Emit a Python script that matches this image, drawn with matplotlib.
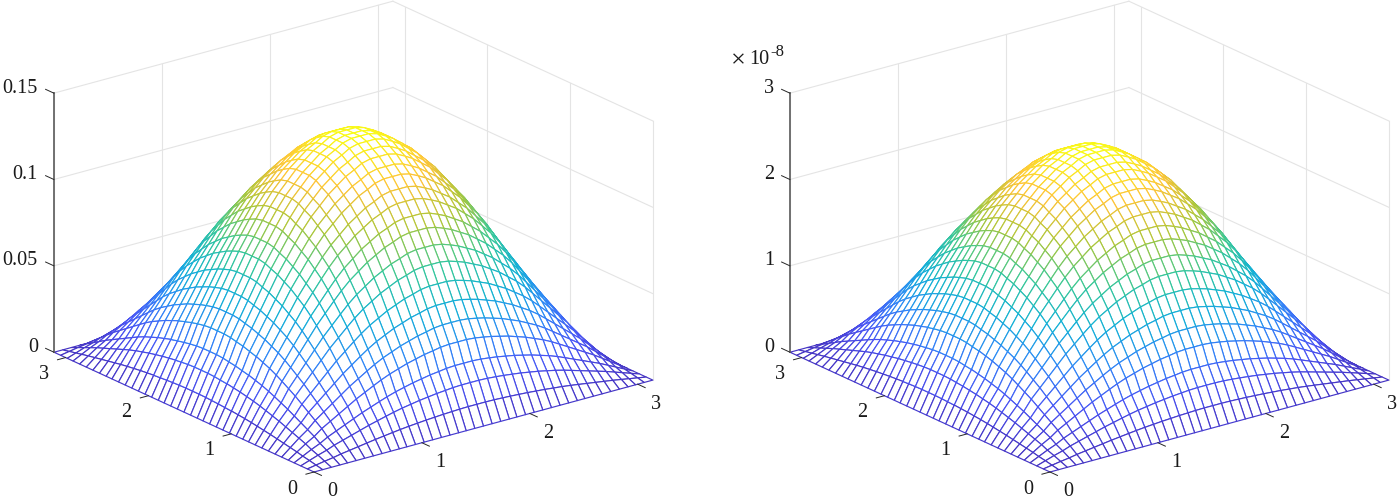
import numpy as np
import matplotlib
matplotlib.use('Agg')
import matplotlib.pyplot as plt
from matplotlib.colors import LinearSegmentedColormap
from mpl_toolkits.mplot3d import proj3d

plt.rcParams['font.family'] = ['Liberation Serif', 'DejaVu Serif']

# mesh grid coordinates and the bump profile
grid = [0.00, 0.08, 0.16, 0.24, 0.31, 0.39, 0.47, 0.55, 0.63, 0.71, 0.79,
        0.86, 0.94, 1.02, 1.10, 1.18, 1.26, 1.34, 1.41, 1.49, 1.57,
        1.65, 1.73, 1.81, 1.88, 1.96, 2.04, 2.12, 2.20, 2.28, 2.36,
        2.44, 2.51, 2.59, 2.67, 2.75, 2.83, 2.91, 2.98, 3.06, 3.14]
profile = [0.00, 0.08, 0.16, 0.23, 0.31, 0.38, 0.45, 0.52, 0.59, 0.65, 0.71,
           0.76, 0.81, 0.85, 0.89, 0.92, 0.95, 0.97, 0.99, 1.00, 1.00,
           1.00, 0.99, 0.97, 0.95, 0.92, 0.89, 0.85, 0.81, 0.76, 0.71,
           0.65, 0.59, 0.52, 0.45, 0.38, 0.31, 0.23, 0.16, 0.08, 0.00]
peak_left = 0.135
peak_right = 2.51e-8
xy_ticks = [0, 1, 2, 3]
xy_labels = ['0', '1', '2', '3']
zticks_left = [0, 0.05, 0.1, 0.15]
zlabels_left = ['0', '0.05', '0.1', '0.15']
zticks_right = [0, 1e-8, 2e-8, 3e-8]
zlabels_right = ['0', '1', '2', '3']

parula = LinearSegmentedColormap.from_list('parula', [
    (0.2700, 0.2000, 0.7600), (0.2810, 0.3228, 0.9579),
    (0.1786, 0.5289, 0.9682), (0.0689, 0.6948, 0.8394),
    (0.2161, 0.7843, 0.5923), (0.6720, 0.7793, 0.2227),
    (0.9970, 0.7659, 0.2199), (0.9769, 0.9839, 0.0805)])

W, H = 1397, 500
XMAX = np.pi
ELEV, AZIM = 20.7, -127.5
GRID_C = '#e4e4e4'
TICK_C = '#262626'
TEXT_C = '#1a1a1a'
FS = 14.6


def panel(fig, x0, peak, zticks, zlabels):
    ztop = zticks[-1]
    X, Y = np.meshgrid(grid, grid)
    Z = peak * np.outer(profile, profile)

    ax = fig.add_axes([0, 0, 0.3, 0.3 * W / H], projection='3d')
    ax.patch.set_alpha(0)
    ax.set_proj_type('ortho')
    ax.view_init(elev=ELEV, azim=AZIM)
    ax.set_xlim(0, XMAX)
    ax.set_ylim(0, XMAX)
    ax.set_zlim(0, ztop)
    ax.set_box_aspect((429, 429, 278))
    ax.set_axis_off()
    ax.computed_zorder = False

    # walls
    for v in xy_ticks:
        ax.plot([v, v], [XMAX, XMAX], [0, ztop], color=GRID_C, lw=0.8, zorder=1)
        ax.plot([XMAX, XMAX], [v, v], [0, ztop], color=GRID_C, lw=0.8, zorder=1)
    for z in zticks[1:]:
        ax.plot([0, XMAX], [XMAX, XMAX], [z, z], color=GRID_C, lw=0.8, zorder=1)
        ax.plot([XMAX, XMAX], [0, XMAX], [z, z], color=GRID_C, lw=0.8, zorder=1)

    # mesh: white faces hide what is behind, edges coloured by height
    mid = (Z[:-1, :-1] + Z[1:, :-1] + Z[:-1, 1:] + Z[1:, 1:]) / 4
    cols = parula(mid / mid.max())
    surf = ax.plot_surface(X, Y, Z, rstride=1, cstride=1, facecolors=cols,
                           shade=False, linewidth=0.85, zorder=2)
    surf.set_edgecolor(cols.reshape(-1, 4))
    surf.set_facecolor('white')

    # left z axis
    ax.plot([0, 0], [XMAX, XMAX], [0, ztop], color='#666666', lw=1.3, zorder=3)

    # fit the square axes so the box lands on the wanted pixels
    ax.apply_aspect()
    M = ax.get_proj()

    def frac(x, y, z):
        px, py, _ = proj3d.proj_transform(x, y, z, M)
        return ax.transAxes.inverted().transform(ax.transData.transform((px, py)))

    f0 = frac(0, 0, 0)
    f1 = frac(XMAX, 0, 0)
    side = 339.0 / (f1[0] - f0[0])
    left = x0 - side * f0[0]
    bottom = (H - 472) - side * f0[1]
    ax.set_position([left / W, bottom / H, side / W, side / H])

    # tick labels go on the figure, at the projected spot of their tick
    def label(x, y, z, s, dx, dy, ha='center'):
        f = frac(x, y, z)
        fig.text((left + side * f[0] + dx) / W, (bottom + side * f[1] + dy) / H, s,
                 fontsize=FS, ha=ha, va='center', color=TEXT_C)

    for v, s in zip(xy_ticks, xy_labels):
        ax.plot([v, v], [0, -0.09], [0, 0], color=TICK_C, lw=0.7, zorder=3)
        ax.plot([0, -0.075], [v, v], [0, 0], color=TICK_C, lw=0.7, zorder=3)
        label(v, 0, 0, s, 18, -20)
        label(0, v, 0, s, -22, -17)
    for z, s in zip(zticks, zlabels):
        ax.plot([0, 0], [XMAX, XMAX + 0.1], [z, z], color=TICK_C, lw=0.7, zorder=3)
        label(0, XMAX, z, s, -16, 5, ha='right')
    return ax


fig = plt.figure(figsize=(W / 100, H / 100), dpi=100)
panel(fig, 314, peak_left, zticks_left, zlabels_left)
panel(fig, 1050, peak_right, zticks_right, zlabels_right)

# exponent of the right z axis
fig.text(738 / W, 1 - 61 / H, '\u00d7', fontsize=19, ha='center', va='center', color=TEXT_C)
fig.text(749 / W, 1 - 60 / H, '10', fontsize=FS, ha='left', va='center', color=TEXT_C)
fig.text(770 / W, 1 - 52 / H, '-8', fontsize=12, ha='left', va='center', color=TEXT_C)

fig.savefig('out.png', dpi=100)
